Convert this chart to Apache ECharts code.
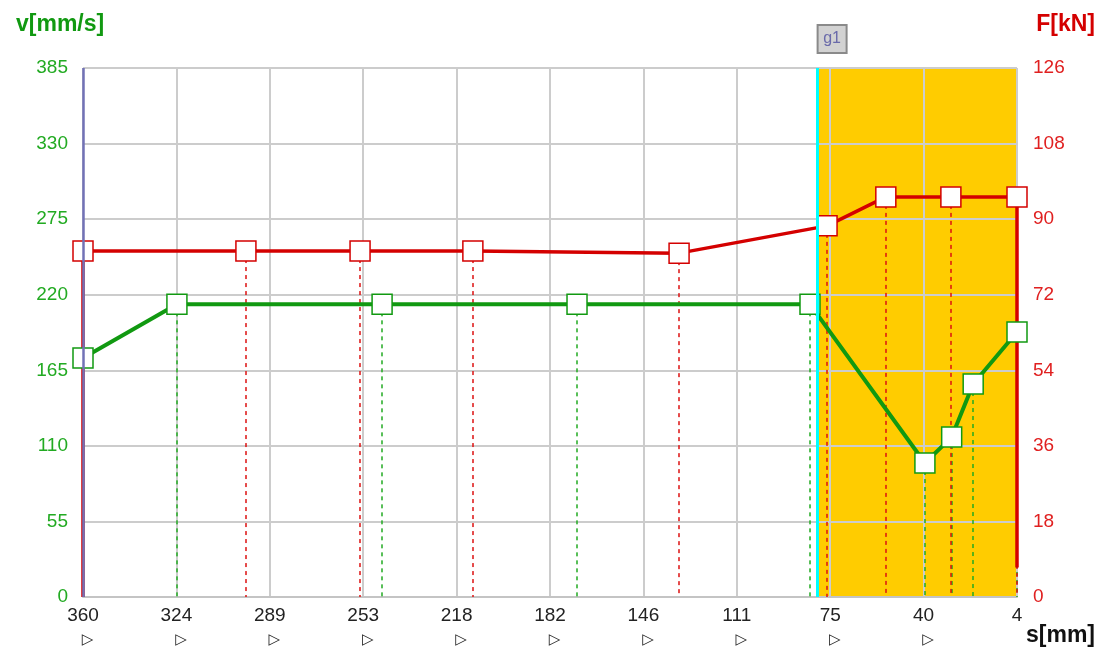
<!DOCTYPE html>
<html><head><meta charset="utf-8">
<script src="https://cdn.jsdelivr.net/npm/echarts@6/dist/echarts.min.js"></script>
<style>html,body{margin:0;padding:0;background:#fff}#c{width:1104px;height:652px}</style>
</head><body><div id="c"></div>
<script>
// axis settings
const S_OFFSET = 4;      // smallest s on the axis (right end)
const S_MAX = 360;       // largest s (left end)
const S_STEP = 35.6;
const V_MAX = 385, V_STEP = 55;
const F_MAX = 126, F_STEP = 18;

// velocity series v[mm/s] over s[mm]
const vS    = [360, 324.2, 246, 171.7, 82.9, 39.1, 28.9, 20.7, 4];
const vVals = [174, 213,   213, 213,   213,  97.5, 116.4, 155, 192.9];

// force series F[kN] over s[mm]
const fS      = [360, 360,  297.9, 254.4, 211.4, 132.8, 76.4, 54,   29.2, 4,    4];
const fVals   = [0,   82.4, 82.4,  82.4,  82.4,  81.9,  88.4, 95.3, 95.3, 95.3, 7];
const fMarked = [false, true, true, true, true, true, true, true, true, true, false];

// highlighted zone and marker g1
const zoneS = [80, 4];
const g1S = 80;
const g1Label = 'g1';

const GREEN = '#119911', RED = '#d40000';
const FONT = 'Liberation Sans';

const toX = s => s - S_OFFSET;

const vData = vS.map((s, i) => [toX(s), vVals[i]]);
const fData = fS.map((s, i) => fMarked[i] ? [toX(s), fVals[i]] : {value: [toX(s), fVals[i]], symbol: 'none'});

const vDrops = vS.map((s, i) => [{coord: [toX(s), vVals[i]]}, {coord: [toX(s), 0]}]).slice(1);
const fDrops = fS.map((s, i) => fMarked[i] ? [{coord: [toX(s), fVals[i]]}, {coord: [toX(s), 0]}] : null).filter(Boolean);

const chart = echarts.init(document.getElementById('c'), null, {renderer: 'canvas'});
chart.setOption({
  animation: false,
  backgroundColor: '#fff',
  title: [
    {text: 'v[mm/s]', left: 11, top: 8, textStyle: {color: GREEN, fontSize: 23, fontWeight: 'bold', fontFamily: FONT}},
    {text: 'F[kN]', right: 4, top: 8, textStyle: {color: RED, fontSize: 23, fontWeight: 'bold', fontFamily: FONT}},
    {text: 's[mm]', right: 4, bottom: 0, textStyle: {color: '#111', fontSize: 23, fontWeight: 'bold', fontFamily: FONT}}
  ],
  grid: {left: 83, right: 87, top: 68, bottom: 55, containLabel: false},
  xAxis: {
    type: 'value', inverse: true, min: 0, max: S_MAX - S_OFFSET, interval: S_STEP,
    axisLine: {show: true, lineStyle: {color: '#c4c4c4', width: 2}},
    axisTick: {show: false},
    splitLine: {show: true, lineStyle: {color: '#cccccc', width: 2}},
    axisLabel: {
      margin: 8,
      formatter: v => {
        const n = Math.round(v + S_OFFSET);
        return n === S_OFFSET ? '{n|' + n + '}\n{e| }' : '{n|' + n + '}\n{t|▷}';
      },
      rich: {
        n: {fontSize: 19, fontFamily: FONT, color: '#222', lineHeight: 22},
        t: {fontSize: 15, fontFamily: 'DejaVu Sans', color: '#222', lineHeight: 26, padding: [0, 0, 0, 9]},
        e: {fontSize: 15, lineHeight: 26}
      }
    }
  },
  yAxis: [
    {
      type: 'value', min: 0, max: V_MAX, interval: V_STEP, position: 'left',
      axisLine: {show: false}, axisTick: {show: false},
      splitLine: {show: true, lineStyle: {color: '#cccccc', width: 2}},
      axisLabel: {color: '#22aa22', fontSize: 19, fontFamily: FONT, margin: 15}
    },
    {
      type: 'value', min: 0, max: F_MAX, interval: F_STEP, position: 'right',
      axisLine: {show: false}, axisTick: {show: false},
      splitLine: {show: false},
      axisLabel: {color: '#e02020', fontSize: 19, fontFamily: FONT, margin: 16}
    }
  ],
  series: [
    {
      type: 'line', data: [], silent: true, z: 0,
      markArea: {
        silent: true, z: -1,
        itemStyle: {color: '#ffcc00', borderColor: '#c8a000', borderWidth: 1},
        data: [[{xAxis: toX(zoneS[0])}, {xAxis: toX(zoneS[1])}]]
      }
    },
    {
      name: 'v', type: 'line', yAxisIndex: 0, data: vData,
      showAllSymbol: true, symbol: 'rect', symbolSize: 20,
      lineStyle: {color: GREEN, width: 4},
      itemStyle: {color: '#ffffff', borderColor: GREEN, borderWidth: 1.5},
      markLine: {
        silent: true, z: 1, symbol: 'none', label: {show: false},
        lineStyle: {color: '#22aa22', type: [4, 4], width: 1.5},
        data: vDrops
      }
    },
    {
      name: 'F', type: 'line', yAxisIndex: 1, data: fData,
      showAllSymbol: true, symbol: 'rect', symbolSize: 20,
      lineStyle: {color: RED, width: 3.5},
      itemStyle: {color: '#ffffff', borderColor: RED, borderWidth: 1.5},
      markLine: {
        silent: true, z: 1, symbol: 'none', label: {show: false},
        lineStyle: {color: '#dd1111', type: [4, 4], width: 1.5},
        data: fDrops
      }
    },
    {
      type: 'line', data: [], silent: true,
      markLine: {
        silent: true, z: 4, symbol: 'none', label: {show: false},
        data: [
          {xAxis: toX(S_MAX), lineStyle: {color: '#7272b6', width: 2.5, type: 'solid'}},
          {xAxis: toX(g1S), lineStyle: {color: '#00ffff', width: 3, type: 'solid'}}
        ]
      }
    }
  ]
});

const gx = chart.convertToPixel({xAxisIndex: 0}, toX(g1S));
chart.setOption({
  graphic: [{
    type: 'group', left: gx - 1, top: 24,
    children: [
      {type: 'rect', shape: {x: 0, y: 0, width: 29, height: 28}, style: {fill: '#d2d2d2', stroke: '#8a8a8a', lineWidth: 2}},
      {type: 'text', x: 14.5, y: 14, style: {text: g1Label, fill: '#6a6aaa', font: '16px "Liberation Sans"', textAlign: 'center', textVerticalAlign: 'middle'}}
    ]
  }]
});
</script>
</body></html>
